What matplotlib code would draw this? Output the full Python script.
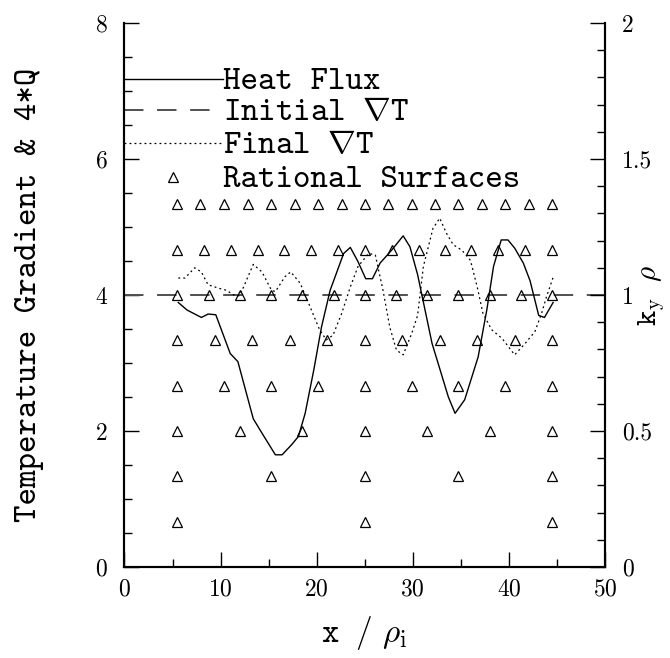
import matplotlib
matplotlib.use('Agg')
import matplotlib.pyplot as plt
from matplotlib.ticker import MultipleLocator, FuncFormatter

plt.rcParams['font.family'] = 'serif'
plt.rcParams['font.serif'] = ['cmr10']
plt.rcParams['mathtext.fontset'] = 'cm'
plt.rcParams['axes.formatter.use_mathtext'] = True

# Heat flux (solid)
flux_x = [5.6, 6.5, 8.0, 8.7, 9.5, 11.0, 11.8, 13.4, 14.3, 15.7, 16.4, 17.4,
          18.1, 18.8, 19.7, 20.5, 21.4, 22.8, 23.5, 24.3, 25.1, 25.8, 26.6,
          27.8, 29.0, 29.7, 30.5, 32.0, 33.7, 34.4, 35.4, 36.8, 37.7, 38.4,
          39.2, 39.9, 40.6, 41.5, 42.2, 43.1, 43.7, 44.6]
flux_y = [3.89, 3.78, 3.67, 3.72, 3.71, 3.14, 3.02, 2.18, 1.97, 1.65, 1.65, 1.80,
          1.92, 2.26, 2.90, 3.53, 4.07, 4.61, 4.70, 4.49, 4.24, 4.24, 4.47,
          4.66, 4.87, 4.71, 4.30, 3.29, 2.50, 2.26, 2.46, 3.09, 3.78, 4.42,
          4.81, 4.81, 4.69, 4.47, 4.21, 3.70, 3.67, 3.89]

# Final temperature gradient (dotted)
final_x = [5.6, 6.3, 7.3, 8.0, 8.7, 9.8, 10.6, 11.5, 12.0, 13.4, 14.3, 15.3,
           15.7, 16.7, 17.3, 18.3, 19.3, 20.3, 21.0, 21.7, 22.6, 23.5, 24.3,
           25.4, 26.1, 26.9, 27.6, 28.3, 29.0, 29.9, 30.5, 31.1, 32.1, 32.8,
           33.5, 34.2, 35.1, 36.0, 36.7, 37.3, 38.2, 39.3, 40.6, 41.7, 42.7,
           43.4, 43.9, 44.6]
final_y = [4.25, 4.25, 4.40, 4.34, 4.15, 4.10, 4.07, 3.99, 3.99, 4.45, 4.34, 4.07,
           4.05, 4.27, 4.34, 4.17, 3.83, 3.49, 3.34, 3.41, 3.73, 4.12, 4.42,
           4.61, 4.59, 4.07, 3.53, 3.19, 3.12, 3.44, 3.70, 4.42, 4.98, 5.13,
           4.91, 4.74, 4.66, 4.51, 4.12, 3.73, 3.49, 3.36, 3.12, 3.29, 3.46,
           3.73, 3.97, 4.26]

# Initial temperature gradient (dashed)
init_x = [0, 50]
init_y = [4.0, 4.0]

# Rational surfaces: k_y rho of each row and x positions along it
rat_ky = [1/6, 2/6, 3/6, 4/6, 5/6, 1.0, 7/6, 8/6]
rat_x = [
    [5.5, 25.0, 44.5],
    [5.5, 15.25, 25.0, 34.75, 44.5],
    [5.5, 12.0, 18.5, 25.0, 31.5, 38.0, 44.5],
    [5.5, 10.4, 15.25, 20.1, 25.0, 29.9, 34.75, 39.6, 44.5],
    [5.5, 9.4, 13.3, 17.2, 21.1, 25.0, 28.9, 32.8, 36.7, 40.6, 44.5],
    [5.5, 8.75, 12.0, 15.25, 18.5, 21.75, 25.0, 28.25, 31.5, 34.75, 38.0,
     41.25, 44.5],
    [5.5, 8.3, 11.1, 13.9, 16.6, 19.4, 22.2, 25.0, 27.8, 30.6, 33.4, 36.1,
     38.9, 41.7, 44.5],
    [5.5, 7.9, 10.4, 12.8, 15.25, 17.7, 20.1, 22.6, 25.0, 27.4, 29.9, 32.3,
     34.75, 37.2, 39.6, 42.1, 44.5],
]

legend_labels = ['Heat Flux', r'Initial $\nabla$T', r'Final $\nabla$T',
                 'Rational Surfaces']

TT = 'cmtt10'   # wide thin typewriter face for the labels

fig = plt.figure(figsize=(6.7, 6.58), dpi=100)
ax = fig.add_axes([0.1858, 0.1383, 0.7172, 0.8267])
ax2 = ax.twinx()

dash = (10, 7)
dot = (1.5, 2.5)
tri = dict(marker='^', markersize=6.5, markerfacecolor='none',
           markeredgecolor='black', markeredgewidth=0.9, linestyle='none')

ax.plot(init_x, init_y, color='#505050', lw=1.4, dashes=dash)
ax.plot(flux_x, flux_y, color='black', lw=1.0)
ax.plot(final_x, final_y, color='black', lw=0.9, dashes=dot)

for ky, xs in zip(rat_ky, rat_x):
    ax2.plot(xs, [ky] * len(xs), **tri)

# hand-made legend hanging off the left axis
leg_y = [7.18, 6.72, 6.24, 5.74]
ax.plot([0, 10.2], [leg_y[0]] * 2, color='black', lw=1.0, clip_on=False)
ax.plot([0, 10.2], [leg_y[1]] * 2, color='#505050', lw=1.4, dashes=dash,
        clip_on=False)
ax.plot([0, 10.2], [leg_y[2]] * 2, color='black', lw=0.9, dashes=dot,
        clip_on=False)
ax.plot([5.1], [leg_y[3]], **tri)
for yy, lab in zip(leg_y, legend_labels):
    ax.text(10.3, yy - 0.05, lab, fontsize=24, family=TT, va='center',
            ha='left')

ax.set_xlim(0, 50)
ax.set_ylim(0, 8)
ax2.set_ylim(0, 2)

ax.xaxis.set_major_locator(MultipleLocator(10))
ax.xaxis.set_minor_locator(MultipleLocator(5))
ax.yaxis.set_major_locator(MultipleLocator(2))
ax.yaxis.set_minor_locator(MultipleLocator(0.5))
ax2.yaxis.set_major_locator(MultipleLocator(0.5))
ax2.yaxis.set_minor_locator(MultipleLocator(0.1))
ax2.yaxis.set_major_formatter(FuncFormatter(lambda v, p: '%g' % v))

for a in (ax, ax2):
    a.spines['top'].set_visible(False)
    for s in a.spines.values():
        s.set_linewidth(1.5)
    a.tick_params(which='major', direction='in', length=11, width=1.0,
                  labelsize=17)
    a.tick_params(which='minor', direction='in', length=5.5, width=1.0)
ax.tick_params(axis='x', pad=8)
ax.tick_params(axis='y', pad=12)
ax2.tick_params(axis='y', pad=12)

ax.set_xlabel(r'x $/\ \rho_{\rm i}$', fontsize=24, family=TT, labelpad=10)
ax.set_ylabel('Temperature Gradient & 4*Q', fontsize=24, family=TT)
ax.yaxis.set_label_coords(-0.1675, 0.5)
ax2.set_ylabel(r'k$_{\rm y}$ $\rho$', fontsize=21, family=TT)
ax2.yaxis.set_label_coords(1.064, 0.5)

fig.savefig('out.png', dpi=100)
